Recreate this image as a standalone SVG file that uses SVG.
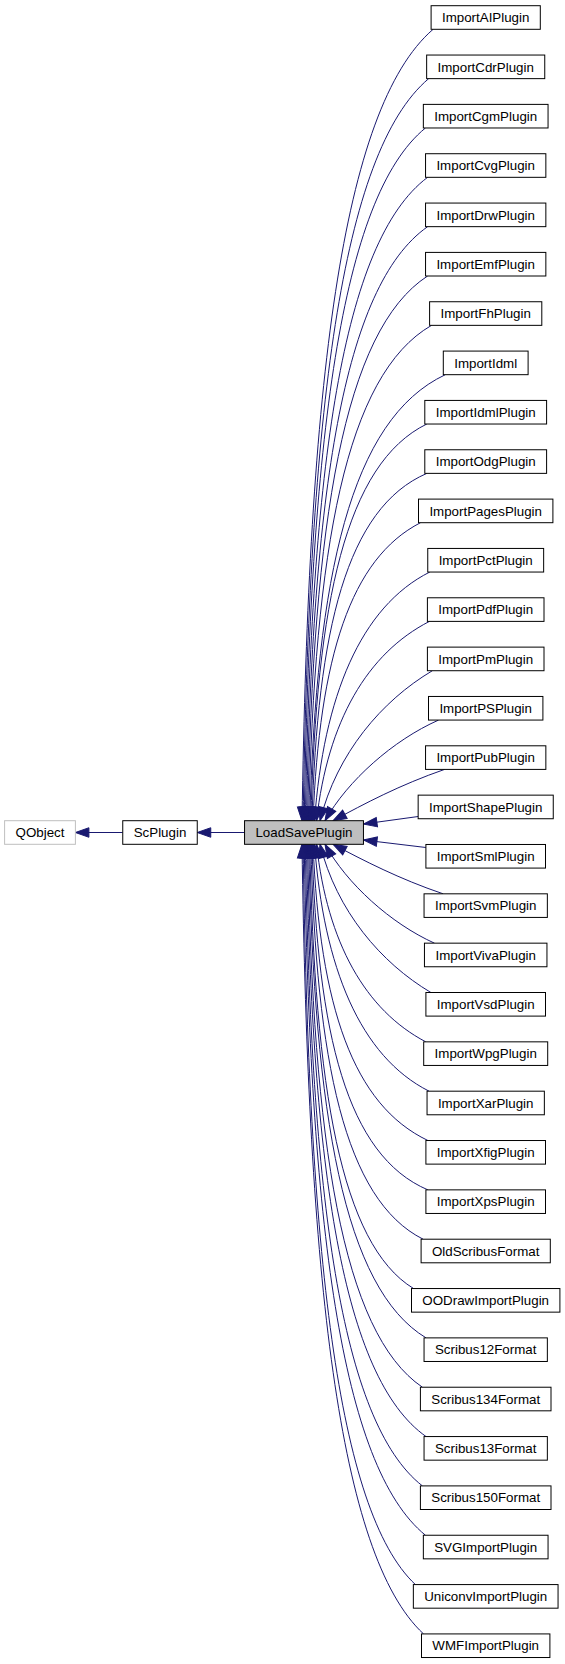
<svg xmlns="http://www.w3.org/2000/svg" width="565" height="1664" viewBox="0 0 565 1664">
<style>
.n rect{fill:#fff;stroke:#000;stroke-width:1}
.n text{font-family:"Liberation Sans",Arial,Helvetica,sans-serif;font-size:13.33px;text-anchor:middle;fill:#000}
.e path{fill:none;stroke:#191970;stroke-width:1;marker-end:url(#ah)}
</style>
<defs>
<marker id="ah" markerUnits="userSpaceOnUse" markerWidth="16" markerHeight="12" refX="13.5" refY="4.75" orient="auto" overflow="visible">
<path d="M0,0 L13.5,4.75 L0,9.5 z" fill="#191970" stroke="#191970" stroke-width="1"/>
</marker>
</defs>
<g class="e" id="edges">
<path d="M122.75,832.5 L75.4,832.5"/>
<path d="M244.55,832.5 L197.25,832.5"/>
<path d="M433.1,29.3 C341.3,108.4 308.6,385.4 302,820.7"/>
<path d="M428.7,78.6 C340.8,152.8 309.4,412.5 303.1,820.7"/>
<path d="M425.4,128 C340.6,197.3 310.3,439.7 304.2,820.7"/>
<path d="M427.6,177.3 C342,241.6 311.4,466.8 305.3,820.7"/>
<path d="M427.6,226.7 C342.8,286.1 312.5,494 306.4,820.7"/>
<path d="M427.6,276 C343.5,330.5 313.5,521.1 307.5,820.7"/>
<path d="M431.6,325.3 C345.5,374.8 314.8,548.2 308.6,820.7"/>
<path d="M445.3,374.7 C350.4,419.3 316.5,575.4 309.7,820.7"/>
<path d="M426.8,424 C345.6,463.7 316.6,602.5 310.8,820.7"/>
<path d="M426.8,473.4 C346.4,508.1 317.6,629.7 311.9,820.7"/>
<path d="M420.5,522.7 C350.6,558.5 319.5,656.8 313,820.7"/>
<path d="M429.8,572 C360.6,606.8 323.7,696.3 314.5,820.7"/>
<path d="M429.4,621.4 C367.3,653.3 327.8,721 316.5,820.7"/>
<path d="M432.4,670.7 C381.8,700.7 336.9,753.2 320,820.7"/>
<path d="M438.5,720.1 C393.1,740.2 347.7,780.5 325,820.7"/>
<path d="M444.6,769.4 C400,784.8 364.2,803.8 333,820.7"/>
<path d="M418.2,816.5 L363.5,824"/>
<path d="M425.9,847.5 L363.5,840"/>
<path d="M443.1,893.8 C399.1,878.9 363.8,860.6 333,844.3"/>
<path d="M434.5,943.2 C390.7,923.4 346.9,883.9 325,844.3"/>
<path d="M430.9,992.5 C381,962.9 336.6,911 320,844.3"/>
<path d="M425.7,1041.8 C365.6,1010.2 327.4,943.1 316.5,844.3"/>
<path d="M429.1,1091.2 C360.3,1056.6 323.7,967.8 314.5,844.3"/>
<path d="M427.9,1140.5 C353.2,1105 319.9,1007.2 313,844.3"/>
<path d="M427.9,1189.9 C346.7,1155.3 317.7,1034.4 311.9,844.3"/>
<path d="M423.1,1239.2 C344.5,1199.7 316.4,1061.5 310.8,844.3"/>
<path d="M413.5,1288.5 C340.8,1244.1 314.9,1088.6 309.7,844.3"/>
<path d="M426.1,1337.9 C343.8,1288.5 314.5,1115.8 308.6,844.3"/>
<path d="M422.4,1387.2 C342,1332.9 313.2,1142.9 307.5,844.3"/>
<path d="M426.1,1436.6 C342.3,1377.4 312.4,1170.1 306.4,844.3"/>
<path d="M422.4,1485.9 C340.4,1421.7 311.2,1197.2 305.3,844.3"/>
<path d="M425.4,1535.2 C340.6,1466.1 310.3,1224.3 304.2,844.3"/>
<path d="M415.4,1584.6 C336.8,1510.6 308.7,1251.5 303.1,844.3"/>
<path d="M423.5,1633.9 C338.4,1554.9 308.1,1278.6 302,844.3"/>
</g>
<g class="n" id="QObject"><rect x="4.6" y="820.7" width="70.8" height="23.6" style="stroke:#bfbfbf"/><text x="40" y="837.2">QObject</text></g>
<g class="n" id="ScPlugin"><rect x="122.75" y="820.7" width="74.5" height="23.6"/><text x="160" y="837.2">ScPlugin</text></g>
<g class="n" id="LoadSavePlugin"><rect x="244.55" y="820.7" width="118.9" height="23.6" style="fill:#bfbfbf"/><text x="304" y="837.2">LoadSavePlugin</text></g>
<g class="n" id="ImportAIPlugin"><rect x="431.1" y="5.7" width="109.2" height="23.6"/><text x="485.7" y="22.2">ImportAIPlugin</text></g>
<g class="n" id="ImportCdrPlugin"><rect x="426.65" y="55.04" width="118.1" height="23.6"/><text x="485.7" y="71.54">ImportCdrPlugin</text></g>
<g class="n" id="ImportCgmPlugin"><rect x="423.35" y="104.38" width="124.7" height="23.6"/><text x="485.7" y="120.88">ImportCgmPlugin</text></g>
<g class="n" id="ImportCvgPlugin"><rect x="425.55" y="153.72" width="120.3" height="23.6"/><text x="485.7" y="170.22">ImportCvgPlugin</text></g>
<g class="n" id="ImportDrwPlugin"><rect x="425.55" y="203.06" width="120.3" height="23.6"/><text x="485.7" y="219.56">ImportDrwPlugin</text></g>
<g class="n" id="ImportEmfPlugin"><rect x="425.55" y="252.4" width="120.3" height="23.6"/><text x="485.7" y="268.9">ImportEmfPlugin</text></g>
<g class="n" id="ImportFhPlugin"><rect x="429.6" y="301.74" width="112.2" height="23.6"/><text x="485.7" y="318.24">ImportFhPlugin</text></g>
<g class="n" id="ImportIdml"><rect x="443.3" y="351.08" width="84.8" height="23.6"/><text x="485.7" y="367.58">ImportIdml</text></g>
<g class="n" id="ImportIdmlPlugin"><rect x="424.8" y="400.42" width="121.8" height="23.6"/><text x="485.7" y="416.92">ImportIdmlPlugin</text></g>
<g class="n" id="ImportOdgPlugin"><rect x="424.8" y="449.76" width="121.8" height="23.6"/><text x="485.7" y="466.26">ImportOdgPlugin</text></g>
<g class="n" id="ImportPagesPlugin"><rect x="418.5" y="499.1" width="134.4" height="23.6"/><text x="485.7" y="515.6">ImportPagesPlugin</text></g>
<g class="n" id="ImportPctPlugin"><rect x="427.75" y="548.44" width="115.9" height="23.6"/><text x="485.7" y="564.94">ImportPctPlugin</text></g>
<g class="n" id="ImportPdfPlugin"><rect x="427.4" y="597.78" width="116.6" height="23.6"/><text x="485.7" y="614.28">ImportPdfPlugin</text></g>
<g class="n" id="ImportPmPlugin"><rect x="427.4" y="647.12" width="116.6" height="23.6"/><text x="485.7" y="663.62">ImportPmPlugin</text></g>
<g class="n" id="ImportPSPlugin"><rect x="428.5" y="696.46" width="114.4" height="23.6"/><text x="485.7" y="712.96">ImportPSPlugin</text></g>
<g class="n" id="ImportPubPlugin"><rect x="425.55" y="745.8" width="120.3" height="23.6"/><text x="485.7" y="762.3">ImportPubPlugin</text></g>
<g class="n" id="ImportShapePlugin"><rect x="418.15" y="795.14" width="135.1" height="23.6"/><text x="485.7" y="811.64">ImportShapePlugin</text></g>
<g class="n" id="ImportSmlPlugin"><rect x="425.9" y="844.48" width="119.6" height="23.6"/><text x="485.7" y="860.98">ImportSmlPlugin</text></g>
<g class="n" id="ImportSvmPlugin"><rect x="424.05" y="893.82" width="123.3" height="23.6"/><text x="485.7" y="910.32">ImportSvmPlugin</text></g>
<g class="n" id="ImportVivaPlugin"><rect x="424.45" y="943.16" width="122.5" height="23.6"/><text x="485.7" y="959.66">ImportVivaPlugin</text></g>
<g class="n" id="ImportVsdPlugin"><rect x="425.9" y="992.5" width="119.6" height="23.6"/><text x="485.7" y="1009">ImportVsdPlugin</text></g>
<g class="n" id="ImportWpgPlugin"><rect x="423.7" y="1041.84" width="124" height="23.6"/><text x="485.7" y="1058.34">ImportWpgPlugin</text></g>
<g class="n" id="ImportXarPlugin"><rect x="427.05" y="1091.18" width="117.3" height="23.6"/><text x="485.7" y="1107.68">ImportXarPlugin</text></g>
<g class="n" id="ImportXfigPlugin"><rect x="425.9" y="1140.52" width="119.6" height="23.6"/><text x="485.7" y="1157.02">ImportXfigPlugin</text></g>
<g class="n" id="ImportXpsPlugin"><rect x="425.9" y="1189.86" width="119.6" height="23.6"/><text x="485.7" y="1206.36">ImportXpsPlugin</text></g>
<g class="n" id="OldScribusFormat"><rect x="421.1" y="1239.2" width="129.2" height="23.6"/><text x="485.7" y="1255.7">OldScribusFormat</text></g>
<g class="n" id="OODrawImportPlugin"><rect x="411.5" y="1288.54" width="148.4" height="23.6"/><text x="485.7" y="1305.04">OODrawImportPlugin</text></g>
<g class="n" id="Scribus12Format"><rect x="424.05" y="1337.88" width="123.3" height="23.6"/><text x="485.7" y="1354.38">Scribus12Format</text></g>
<g class="n" id="Scribus134Format"><rect x="420.4" y="1387.22" width="130.6" height="23.6"/><text x="485.7" y="1403.72">Scribus134Format</text></g>
<g class="n" id="Scribus13Format"><rect x="424.05" y="1436.56" width="123.3" height="23.6"/><text x="485.7" y="1453.06">Scribus13Format</text></g>
<g class="n" id="Scribus150Format"><rect x="420.4" y="1485.9" width="130.6" height="23.6"/><text x="485.7" y="1502.4">Scribus150Format</text></g>
<g class="n" id="SVGImportPlugin"><rect x="423.35" y="1535.24" width="124.7" height="23.6"/><text x="485.7" y="1551.74">SVGImportPlugin</text></g>
<g class="n" id="UniconvImportPlugin"><rect x="413.35" y="1584.58" width="144.7" height="23.6"/><text x="485.7" y="1601.08">UniconvImportPlugin</text></g>
<g class="n" id="WMFImportPlugin"><rect x="421.5" y="1633.92" width="128.4" height="23.6"/><text x="485.7" y="1650.42">WMFImportPlugin</text></g>
</svg>
